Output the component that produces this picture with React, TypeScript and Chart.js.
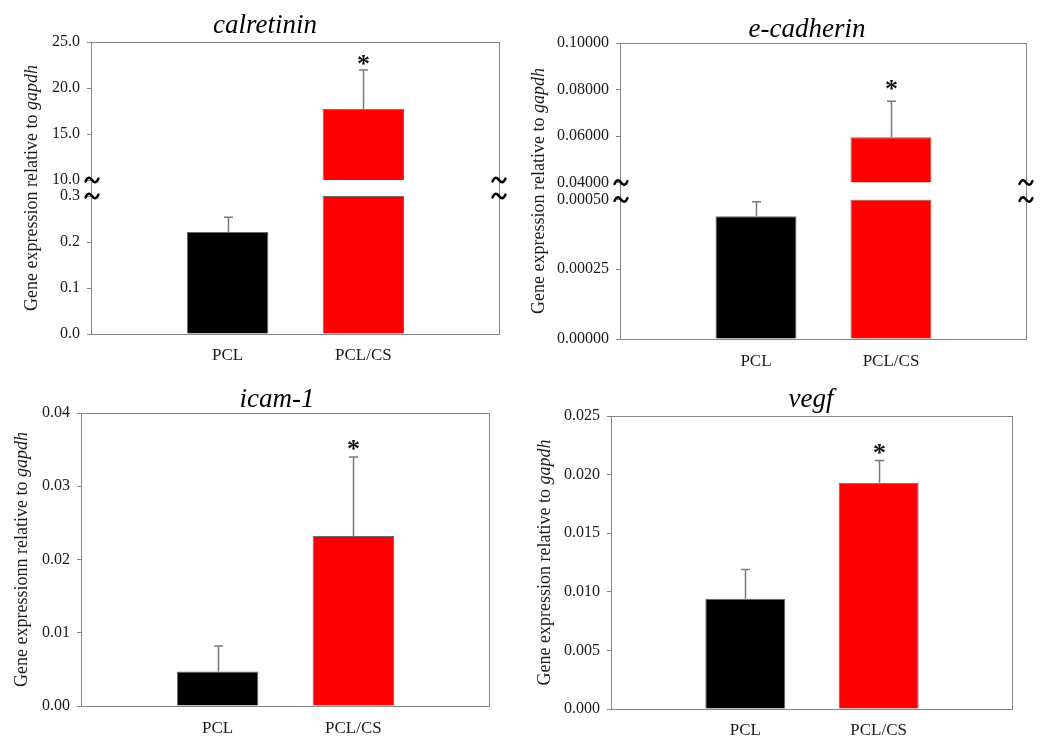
import React, { useEffect, useRef } from 'react';
import { Chart, registerables } from 'chart.js';

Chart.register(...registerables);

// ---------- data ----------
const categories = ['PCL', 'PCL/CS'];
const barColors = ['#000000', '#ff0000'];
const significant = [false, true];

// calretinin (broken axis)
const calretininMeans = [0.222, 17.75];
const calretininErrors = [0.032, 4.2];
const calretininLowerTicks = [0, 0.1, 0.2, 0.3];
const calretininUpperTicks = [10, 15, 20, 25];

// e-cadherin (broken axis)
const ecadherinMeans = [0.00044, 0.0595];
const ecadherinErrors = [0.000052, 0.0155];
const ecadherinLowerTicks = [0, 0.00025, 0.0005];
const ecadherinUpperTicks = [0.04, 0.06, 0.08, 0.1];

// icam-1
const icamMeans = [0.0047, 0.0232];
const icamErrors = [0.0035, 0.0108];
const icamTicks = [0, 0.01, 0.02, 0.03, 0.04];

// vegf
const vegfMeans = [0.0094, 0.0193];
const vegfErrors = [0.0025, 0.0019];
const vegfTicks = [0, 0.005, 0.01, 0.015, 0.02, 0.025];

// ---------- styles ----------
const FONT = "'Liberation Serif', 'Times New Roman', serif";
const AXIS_COLOR = '#858585';
const TEXT_COLOR = '#1a1a1a';
const BAR_EDGE = '#6a6a6a';
const ERR_COLOR = '#7a7a7a';

Chart.defaults.font.family = FONT;
Chart.defaults.color = TEXT_COLOR;

type Panel = {
  title: string;
  yLabel: string;
  yLabelItalic: string;
  means: number[];
  errors: number[];
  ticks: number[];
  upperTicks?: number[];
  decimals: number;
  canvas: { left: number; top: number; width: number; height: number };
  area: { left: number; top: number; right: number; bottom: number };
  segments?: { upper: number; gap: number; lower: number };
  titleX: number;
  titleBaseline: number;
  yLabelX: number;
  xLabelPad: number;
  starGap: number;
};

const panels: Panel[] = [
  {
    title: 'calretinin',
    yLabel: 'Gene expression relative to ',
    yLabelItalic: 'gapdh',
    means: calretininMeans,
    errors: calretininErrors,
    ticks: calretininLowerTicks,
    upperTicks: calretininUpperTicks,
    decimals: 1,
    canvas: { left: 0, top: 0, width: 520, height: 370 },
    area: { left: 92, top: 42, right: 499, bottom: 334 },
    segments: { upper: 138, gap: 16, lower: 138 },
    titleX: 265,
    titleBaseline: 33,
    yLabelX: 32,
    xLabelPad: 3,
    starGap: 2,
  },
  {
    title: 'e-cadherin',
    yLabel: 'Gene expression relative to ',
    yLabelItalic: 'gapdh',
    means: ecadherinMeans,
    errors: ecadherinErrors,
    ticks: ecadherinLowerTicks,
    upperTicks: ecadherinUpperTicks,
    decimals: 5,
    canvas: { left: 520, top: 0, width: 531, height: 370 },
    area: { left: 101, top: 43, right: 506, bottom: 339 },
    segments: { upper: 139.5, gap: 17, lower: 139.5 },
    titleX: 287,
    titleBaseline: 37,
    yLabelX: 19,
    xLabelPad: 4,
    starGap: -4,
  },
  {
    title: 'icam-1',
    yLabel: 'Gene expressionn relative to ',
    yLabelItalic: 'gapdh',
    means: icamMeans,
    errors: icamErrors,
    ticks: icamTicks,
    decimals: 2,
    canvas: { left: 0, top: 370, width: 520, height: 368 },
    area: { left: 82, top: 43, right: 489, bottom: 336 },
    titleX: 277,
    titleBaseline: 37,
    yLabelX: 22,
    xLabelPad: 4.5,
    starGap: 0,
  },
  {
    title: 'vegf',
    yLabel: 'Gene expression relative to ',
    yLabelItalic: 'gapdh',
    means: vegfMeans,
    errors: vegfErrors,
    ticks: vegfTicks,
    decimals: 3,
    canvas: { left: 520, top: 370, width: 531, height: 368 },
    area: { left: 92, top: 46, right: 492, bottom: 339 },
    titleX: 291,
    titleBaseline: 37,
    yLabelX: 25,
    xLabelPad: 3,
    starGap: 0,
  },
];

function pad<T>(arr: T[]): (T | null)[] {
  return [null, ...arr, null];
}

function yScale(tickValues: number[], decimals: number, width: number) {
  return {
    type: 'linear',
    position: 'left',
    grid: { display: true, drawOnChartArea: false, drawTicks: true, tickLength: 5, color: AXIS_COLOR, lineWidth: 1 },
    border: { display: false },
    ticks: {
      padding: 7,
      color: TEXT_COLOR,
      font: { size: 16, family: FONT },
      autoSkip: false,
      callback: (v: number | string) => Number(v).toFixed(decimals),
    },
    afterBuildTicks: (s: any) => {
      s.ticks = tickValues.map((value) => ({ value }));
    },
    afterFit: (s: any) => {
      s.width = width;
    },
  };
}

function drawTilde(ctx: CanvasRenderingContext2D, x: number, y: number) {
  ctx.beginPath();
  ctx.moveTo(x - 6.5, y + 1.5);
  ctx.bezierCurveTo(x - 4.5, y - 3.5, x - 2, y - 3, x, y);
  ctx.bezierCurveTo(x + 2, y + 3, x + 4.5, y + 3.5, x + 6.5, y - 1.5);
  ctx.stroke();
}

function makeDecor(p: Panel) {
  const broken = Array.isArray(p.upperTicks);
  const lowerMax = p.ticks[p.ticks.length - 1];
  return {
    id: 'decor',
    afterDatasetsDraw(chart: any) {
      const ctx: CanvasRenderingContext2D = chart.ctx;
      const xs = chart.scales.x;
      ctx.save();
      p.means.forEach((m, i) => {
        const e = p.errors[i];
        const useUpper = broken && m > lowerMax;
        const ys = useUpper ? chart.scales.yUpper : chart.scales[broken ? 'yLower' : 'y'];
        const x = Math.round(xs.getPixelForValue(i + 1)) + 0.5;
        const y0 = ys.getPixelForValue(m);
        const y1 = ys.getPixelForValue(m + e);
        ctx.strokeStyle = ERR_COLOR;
        ctx.lineWidth = 1.5;
        ctx.beginPath();
        ctx.moveTo(x, y0);
        ctx.lineTo(x, y1);
        ctx.moveTo(x - 4.5, y1);
        ctx.lineTo(x + 4.5, y1);
        ctx.stroke();
        if (significant[i]) {
          ctx.fillStyle = '#111';
          ctx.font = `bold 26px ${FONT}`;
          ctx.textAlign = 'center';
          ctx.textBaseline = 'alphabetic';
          ctx.fillText('*', x, y1 + p.starGap);
        }
      });
      ctx.restore();
    },
    afterDraw(chart: any) {
      const ctx: CanvasRenderingContext2D = chart.ctx;
      const a = chart.chartArea;
      ctx.save();
      // frame
      ctx.strokeStyle = AXIS_COLOR;
      ctx.lineWidth = 1;
      const l = Math.round(a.left) - 0.5;
      const t = Math.round(a.top) + 0.5;
      const r = Math.round(a.right) + 0.5;
      const b = Math.round(a.bottom) + 0.5;
      ctx.strokeRect(l, t, r - l, b - t);
      // break marks
      if (broken) {
        const uMin = p.upperTicks![0];
        const yU = chart.scales.yUpper.getPixelForValue(uMin);
        const yL = chart.scales.yLower.getPixelForValue(lowerMax);
        ctx.strokeStyle = '#000';
        ctx.lineWidth = 2.4;
        ctx.lineCap = 'round';
        [a.left, a.right].forEach((x: number) => {
          drawTilde(ctx, x, yU);
          drawTilde(ctx, x, yL);
        });
      }
      // title
      ctx.fillStyle = '#000';
      ctx.font = `italic 27px ${FONT}`;
      ctx.textAlign = 'center';
      ctx.textBaseline = 'alphabetic';
      ctx.fillText(p.title, p.titleX, p.titleBaseline);
      // y axis title
      const normalFont = `18px ${FONT}`;
      const italicFont = `italic 18px ${FONT}`;
      ctx.font = normalFont;
      const w1 = ctx.measureText(p.yLabel).width;
      ctx.font = italicFont;
      const w2 = ctx.measureText(p.yLabelItalic).width;
      const cy = (a.top + a.bottom) / 2;
      ctx.translate(p.yLabelX, cy);
      ctx.rotate(-Math.PI / 2);
      ctx.textAlign = 'left';
      ctx.textBaseline = 'middle';
      ctx.fillStyle = TEXT_COLOR;
      ctx.font = normalFont;
      ctx.fillText(p.yLabel, -(w1 + w2) / 2, 0);
      ctx.font = italicFont;
      ctx.fillText(p.yLabelItalic, -(w1 + w2) / 2 + w1, 0);
      ctx.restore();
    },
  };
}

function buildConfig(p: Panel): any {
  const labels = pad(categories).map((c) => c ?? '');
  const lowerMin = p.ticks[0];
  const lowerMax = p.ticks[p.ticks.length - 1];
  const broken = Array.isArray(p.upperTicks);
  const lowerId = broken ? 'yLower' : 'y';
  const barStyle = {
    backgroundColor: pad(barColors).map((c) => c ?? 'rgba(0,0,0,0)'),
    borderColor: BAR_EDGE,
    borderWidth: 1,
    grouped: false,
    barPercentage: 1,
    categoryPercentage: 0.6,
  };
  const datasets: any[] = [
    {
      ...barStyle,
      label: p.title,
      data: pad(p.means.map((v) => Math.min(v, lowerMax))),
      yAxisID: lowerId,
    },
  ];
  const scales: any = {};
  scales[lowerId] = { ...yScale(p.ticks, p.decimals, p.area.left), min: lowerMin, max: lowerMax };
  if (broken) {
    const up = p.upperTicks!;
    const uMin = up[0];
    const uMax = up[up.length - 1];
    const seg = p.segments!;
    const extMin = uMin - ((uMax - uMin) * seg.gap) / seg.upper;
    datasets.push({
      ...barStyle,
      label: p.title + ' (upper)',
      data: pad(p.means.map((v) => (v > uMin ? [uMin, v] : null))),
      yAxisID: 'yUpper',
    });
    scales[lowerId].stack = 'brk';
    scales[lowerId].stackWeight = seg.lower;
    scales[lowerId].weight = 0;
    scales.yUpper = {
      ...yScale(up, p.decimals, p.area.left),
      min: extMin,
      max: uMax,
      stack: 'brk',
      stackWeight: seg.upper + seg.gap,
      weight: 1,
    };
  }
  scales.x = {
    type: 'category',
    labels,
    offset: false,
    grid: { display: false },
    border: { display: false },
    ticks: { padding: p.xLabelPad, color: TEXT_COLOR, font: { size: 17, family: FONT }, autoSkip: false, maxRotation: 0 },
    afterFit: (s: any) => {
      s.height = p.canvas.height - p.area.bottom;
    },
  };
  return {
    type: 'bar',
    data: { labels, datasets },
    options: {
      responsive: false,
      animation: false,
      devicePixelRatio: 1,
      layout: {
        padding: { left: 0, top: p.area.top, right: p.canvas.width - p.area.right, bottom: 0 },
      },
      plugins: {
        legend: { display: false },
        tooltip: { enabled: false },
        title: { display: false },
      },
      scales,
    },
    plugins: [makeDecor(p)],
  };
}

function BarPanel({ panel }: { panel: Panel }) {
  const ref = useRef<HTMLCanvasElement>(null);
  useEffect(() => {
    if (!ref.current) return;
    const chart = new Chart(ref.current, buildConfig(panel));
    return () => chart.destroy();
  }, [panel]);
  const c = panel.canvas;
  return (
    <canvas
      ref={ref}
      width={c.width}
      height={c.height}
      style={{ position: 'absolute', left: c.left, top: c.top, width: c.width, height: c.height }}
    />
  );
}

export default function App() {
  return (
    <div style={{ position: 'absolute', left: 0, top: 0, width: 1051, height: 738, background: '#ffffff', overflow: 'hidden' }}>
      {panels.map((p) => (
        <BarPanel key={p.title} panel={p} />
      ))}
    </div>
  );
}
